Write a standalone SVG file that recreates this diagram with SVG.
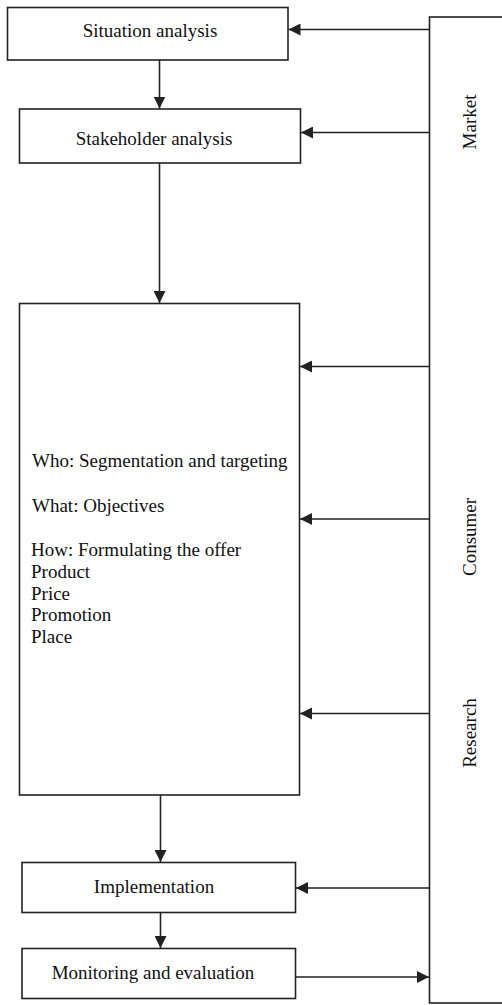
<svg xmlns="http://www.w3.org/2000/svg" width="502" height="1005" viewBox="0 0 502 1005">
<style>
.box{fill:#fff;stroke:#222;stroke-width:1.6}
.ln{fill:none;stroke:#222;stroke-width:1.6}
text{font-family:"Liberation Serif","Times New Roman",serif;font-size:19px;fill:#111}
.c{text-anchor:middle}
</style>
<defs>
<marker id="ah" viewBox="0 0 12 12" refX="12" refY="6" markerWidth="12" markerHeight="12" markerUnits="userSpaceOnUse" orient="auto">
<path d="M0,0 L12,6 L0,12 Z" fill="#222"/>
</marker>
</defs>
<g id="panel">
<rect class="box" x="429.5" y="17" width="90" height="986"/>
<text class="c" transform="translate(476,122) rotate(-90)">Market</text>
<text class="c" transform="translate(476,537) rotate(-90)">Consumer</text>
<text class="c" transform="translate(476,733) rotate(-90)">Research</text>
</g>
<g id="situation">
<rect class="box" x="7.5" y="7.5" width="280.5" height="52.5"/>
<text class="c" x="150" y="37">Situation analysis</text>
</g>
<g id="stakeholder">
<rect class="box" x="19.5" y="109" width="281" height="54"/>
<text class="c" x="154" y="145">Stakeholder analysis</text>
</g>
<g id="plan">
<rect class="box" x="19.5" y="303.5" width="280" height="491.5"/>
<text x="32" y="467">Who: Segmentation and targeting</text>
<text x="32" y="512">What: Objectives</text>
<text x="31" y="556">How: Formulating the offer</text>
<text x="31" y="578">Product</text>
<text x="31" y="600">Price</text>
<text x="31" y="621">Promotion</text>
<text x="31" y="643">Place</text>
</g>
<g id="implementation">
<rect class="box" x="22" y="862.5" width="273.5" height="50"/>
<text class="c" x="154" y="893">Implementation</text>
</g>
<g id="monitoring">
<rect class="box" x="22" y="948.5" width="273.5" height="50"/>
<text class="c" x="153" y="979">Monitoring and evaluation</text>
</g>
<g id="connectors">
<line class="ln" x1="429.5" y1="29.5" x2="288.5" y2="29.5" marker-end="url(#ah)"/>
<line class="ln" x1="429.5" y1="132.5" x2="301" y2="132.5" marker-end="url(#ah)"/>
<line class="ln" x1="429.5" y1="366.5" x2="300" y2="366.5" marker-end="url(#ah)"/>
<line class="ln" x1="429.5" y1="519" x2="300" y2="519" marker-end="url(#ah)"/>
<line class="ln" x1="429.5" y1="713.5" x2="300" y2="713.5" marker-end="url(#ah)"/>
<line class="ln" x1="429.5" y1="888" x2="296" y2="888" marker-end="url(#ah)"/>
<line class="ln" x1="295.5" y1="977" x2="429" y2="977" marker-end="url(#ah)"/>
<line class="ln" x1="159.5" y1="60" x2="159.5" y2="108.5" marker-end="url(#ah)"/>
<line class="ln" x1="159.5" y1="163" x2="159.5" y2="303" marker-end="url(#ah)"/>
<line class="ln" x1="160.5" y1="795" x2="160.5" y2="862" marker-end="url(#ah)"/>
<line class="ln" x1="160.5" y1="912.5" x2="160.5" y2="948" marker-end="url(#ah)"/>
</g>
</svg>
